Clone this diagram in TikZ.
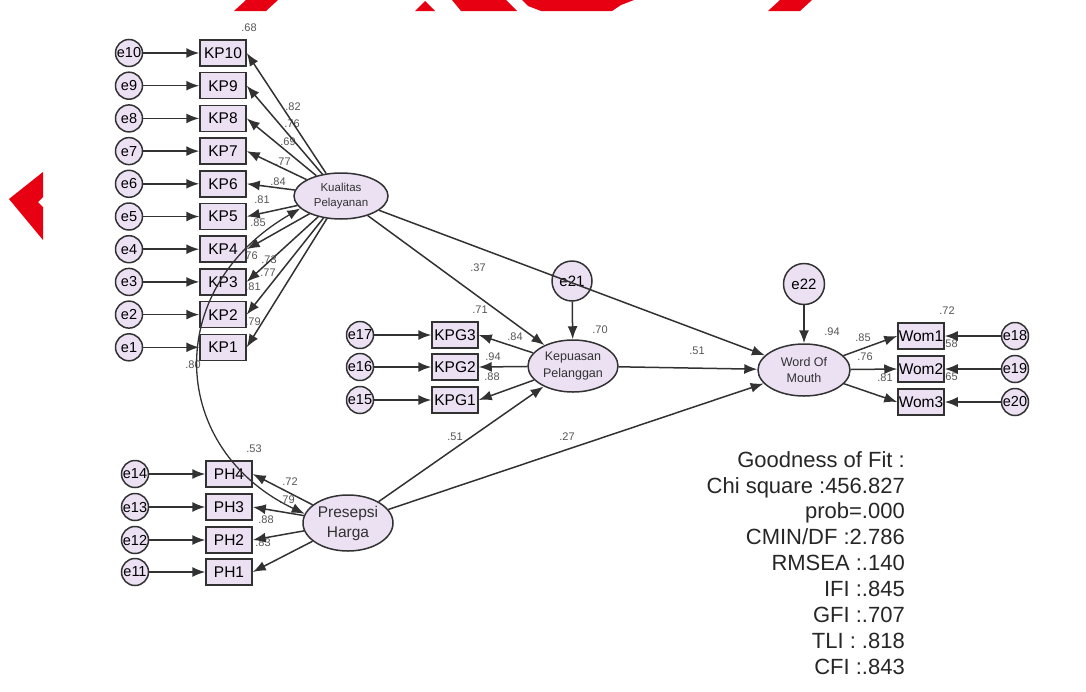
\documentclass[tikz,border=0pt]{standalone}
\usepackage{fontspec}
\setmainfont{Liberation Sans}
\usepackage{tikz}
\usetikzlibrary{arrows.meta}
\usetikzlibrary{shapes.geometric}

\definecolor{lilac}{RGB}{236,224,243}
\definecolor{edge}{RGB}{50,50,50}
\definecolor{numgray}{RGB}{85,85,85}
\definecolor{stampred}{RGB}{230,0,18}

\begin{document}
\begin{tikzpicture}[x=1pt, y=-1pt,
	errc/.style={circle, draw=edge, fill=lilac, line width=1.5pt, minimum size=27pt, inner sep=0pt, font=\fontsize{14.5}{14.5}\selectfont},
	item/.style={rectangle, draw=edge, fill=lilac, line width=1.5pt, minimum width=46pt, minimum height=26pt, inner sep=0pt, font=\fontsize{15.5}{15.5}\selectfont},
	latent/.style={ellipse, draw=edge, fill=lilac, line width=1.5pt, inner sep=0pt, align=center, text=edge},
	coef/.style={inner sep=0pt, text=numgray, font=\fontsize{11}{11}\selectfont},
	link/.style={draw=edge, line width=1.5pt, -{Latex[length=13pt,width=10pt]}}]

	\path[use as bounding box] (0,0) rectangle (1086,691);

	%red marks

	\fill[stampred] (234,11)--(266,11)--(278,0)--(246,0)--cycle;
	\fill[stampred] (415,11)--(425,1)--(435,11)--cycle;
	\fill[stampred] (452,0)--(506,0)--(517,11)--(461,11)--cycle;
	\fill[stampred] (522,0)--(634,0)--(621,5)--(612,11)--(541,11)--(528,6)--cycle;
	\fill[stampred] (768,11)--(800,11)--(812,0)--(780,0)--cycle;
	\fill[stampred] (43,172)--(9,199)--(43,240)--(43,207)--(38,202)--(43,197)--cycle;

	%numbers

	\node[coef] (n1) at (249,28) {.68};
	\node[coef] (n2) at (293,107) {.82};
	\node[coef] (n3) at (292,124) {.76};
	\node[coef] (n4) at (288,142) {.69};
	\node[coef] (n5) at (283,162) {.77};
	\node[coef] (n6) at (278,182) {.84};
	\node[coef] (n7) at (262,200) {.81};
	\node[coef] (n8) at (258,223) {.85};
	\node[coef] (n9) at (250,256) {.76};
	\node[coef] (n10) at (269,260) {.73};
	\node[coef] (n11) at (268,273) {.77};
	\node[coef] (n12) at (253,287) {.81};
	\node[coef] (n13) at (253,322) {.79};
	\node[coef] (n14) at (193,365) {.80};
	\node[coef] (n15) at (254,449) {.53};
	\node[coef] (n16) at (290,482) {.72};
	\node[coef] (n17) at (287,500) {.79};
	\node[coef] (n18) at (266,520) {.88};
	\node[coef] (n19) at (263,543) {.83};
	\node[coef] (n20) at (478,268) {.37};
	\node[coef] (n21) at (600,330) {.70};
	\node[coef] (n22) at (480,310) {.71};
	\node[coef] (n23) at (515,337) {.84};
	\node[coef] (n24) at (493,357) {.94};
	\node[coef] (n25) at (492,377) {.88};
	\node[coef] (n26) at (697,351) {.51};
	\node[coef] (n27) at (455,437) {.51};
	\node[coef] (n28) at (567,437) {.27};
	\node[coef] (n29) at (832,332) {.94};
	\node[coef] (n30) at (863,338) {.85};
	\node[coef] (n31) at (865,357) {.76};
	\node[coef] (n32) at (885,378) {.81};
	\node[coef] (n33) at (947,311) {.72};
	\node[coef] (n34) at (950,344) {.58};
	\node[coef] (n35) at (950,377) {.65};

	%kualitas pelayanan

	\node[errc] (e10) at (129,53) {e10};
	\node[errc] (e9) at (129,85.7) {e9};
	\node[errc] (e8) at (129,118.4) {e8};
	\node[errc] (e7) at (129,151.1) {e7};
	\node[errc] (e6) at (129,183.8) {e6};
	\node[errc] (e5) at (129,216.5) {e5};
	\node[errc] (e4) at (129,249.2) {e4};
	\node[errc] (e3) at (129,281.9) {e3};
	\node[errc] (e2) at (129,314.6) {e2};
	\node[errc] (e1) at (129,347.3) {e1};
	\node[item] (kp10) at (223,53) {KP10};
	\node[item] (kp9) at (223,85.7) {KP9};
	\node[item] (kp8) at (223,118.4) {KP8};
	\node[item] (kp7) at (223,151.1) {KP7};
	\node[item] (kp6) at (223,183.8) {KP6};
	\node[item] (kp5) at (223,216.5) {KP5};
	\node[item] (kp4) at (223,249.2) {KP4};
	\node[item] (kp3) at (223,281.9) {KP3};
	\node[item] (kp2) at (223,314.6) {KP2};
	\node[item] (kp1) at (223,347.3) {KP1};
	\node[latent, minimum width=94pt, minimum height=46pt, font=\fontsize{11.5}{15}\selectfont] (kual) at (341,196) {Kualitas\\Pelayanan};

	%presepsi harga

	\node[errc] (e14) at (135,474) {e14};
	\node[errc] (e13) at (135,507) {e13};
	\node[errc] (e12) at (135,540) {e12};
	\node[errc] (e11) at (135,572) {e11};
	\node[item] (ph4) at (229,474) {PH4};
	\node[item] (ph3) at (229,507) {PH3};
	\node[item] (ph2) at (229,540) {PH2};
	\node[item] (ph1) at (229,572) {PH1};
	\node[latent, minimum width=90pt, minimum height=56pt, font=\fontsize{15.5}{20}\selectfont] (pres) at (348,523) {Presepsi\\Harga};

	%kepuasan pelanggan

	\node[errc] (e17) at (360,335) {e17};
	\node[errc] (e16) at (360,367) {e16};
	\node[errc] (e15) at (360,400) {e15};
	\node[item] (kpg3) at (455,335) {KPG3};
	\node[item] (kpg2) at (455,367) {KPG2};
	\node[item] (kpg1) at (455,400) {KPG1};
	\node[latent, minimum width=90pt, minimum height=52pt, font=\fontsize{12.5}{17}\selectfont] (kep) at (573,366) {Kepuasan\\Pelanggan};
	\node[errc, minimum size=40pt, font=\fontsize{15}{15}\selectfont] (e21) at (572,281) {e21};

	%word of mouth

	\node[latent, minimum width=92pt, minimum height=52pt, font=\fontsize{12.5}{16}\selectfont] (wom) at (804,370) {Word Of\\Mouth};
	\node[errc, minimum size=41pt, font=\fontsize{15}{15}\selectfont] (e22) at (804,284) {e22};
	\node[item] (wom1) at (921,336) {Wom1};
	\node[item] (wom2) at (921,369) {Wom2};
	\node[item] (wom3) at (921,402) {Wom3};
	\node[errc] (e18) at (1015,336) {e18};
	\node[errc] (e19) at (1015,369) {e19};
	\node[errc] (e20) at (1015,402) {e20};

	%arrows

	\draw[link] (e10)--(kp10); \draw[link] (e9)--(kp9); \draw[link] (e8)--(kp8);
	\draw[link] (e7)--(kp7); \draw[link] (e6)--(kp6); \draw[link] (e5)--(kp5);
	\draw[link] (e4)--(kp4); \draw[link] (e3)--(kp3); \draw[link] (e2)--(kp2);
	\draw[link] (e1)--(kp1);
	\draw[link] (kual)--(kp10.east); \draw[link] (kual)--(kp9.east); \draw[link] (kual)--(kp8.east);
	\draw[link] (kual)--(kp7.east); \draw[link] (kual)--(kp6.east); \draw[link] (kual)--(kp5.east);
	\draw[link] (kual)--(kp4.east); \draw[link] (kual)--(kp3.east); \draw[link] (kual)--(kp2.east);
	\draw[link] (kual)--(kp1.east);

	\draw[link] (e14)--(ph4); \draw[link] (e13)--(ph3); \draw[link] (e12)--(ph2); \draw[link] (e11)--(ph1);
	\draw[link] (pres)--(ph4.east); \draw[link] (pres)--(ph3.east); \draw[link] (pres)--(ph2.east); \draw[link] (pres)--(ph1.east);

	\draw[link] (e17)--(kpg3); \draw[link] (e16)--(kpg2); \draw[link] (e15)--(kpg1);
	\draw[link] (kep)--(kpg3.east); \draw[link] (kep)--(kpg2.east); \draw[link] (kep)--(kpg1.east);
	\draw[link] (e21)--(kep);

	\draw[link] (e22)--(wom);
	\draw[link] (wom)--(wom1.west); \draw[link] (wom)--(wom2.west); \draw[link] (wom)--(wom3.west);
	\draw[link] (e18)--(wom1); \draw[link] (e19)--(wom2); \draw[link] (e20)--(wom3);

	\draw[link] (kual)--(kep);
	\draw[link] (kual)--(wom);
	\draw[link] (pres)--(kep);
	\draw[link] (pres)--(wom);
	\draw[link] (kep)--(wom);
	\draw[link, {Latex[length=13pt,width=10pt]}-{Latex[length=13pt,width=10pt]}, line width=1.3pt] (kual.197) .. controls (160,290) and (170,450) .. (pres.168);

	%fit

	\node[anchor=north east, align=right, inner sep=0pt, font=\fontsize{22}{25.9}\selectfont, text=black!85] (fit) at (905,451) {Goodness of Fit :\\Chi square :456.827\\prob=.000\\CMIN/DF :2.786\\RMSEA :.140\\IFI :.845\\GFI :.707\\TLI : .818\\CFI :.843};

\end{tikzpicture}
\end{document}
